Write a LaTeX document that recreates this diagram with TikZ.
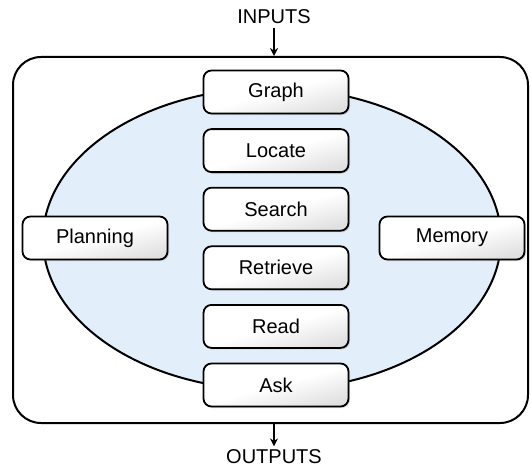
\documentclass[tikz,border=0pt]{standalone}
\usepackage{fontspec}
\setmainfont{Liberation Sans}
\usetikzlibrary{shadows,arrows.meta}

\tikzset{
  box/.style={draw, line width=1.8pt, rounded corners=8pt, minimum width=145pt, minimum height=43pt,
    top color=white, bottom color=black!12, middle color=white, shading angle=15,
    drop shadow={shadow xshift=1.5pt, shadow yshift=-1.5pt, opacity=0.3}},
  frame/.style={draw, line width=2pt, rounded corners=28pt, minimum width=515pt, minimum height=366pt},
  flow/.style={line width=1.6pt, -{Stealth[length=8pt,width=8pt]}}
}

\begin{document}
\begin{tikzpicture}[x=1pt, y=-1pt, font=\fontsize{20}{24}\selectfont]
\useasboundingbox (0,0) rectangle (532,468);

%外枠
\node[frame] (frame) at (270.5,240) {};

%楕円
\draw[line width=2pt, fill={rgb,255:red,227;green,238;blue,251}] (272,239) ellipse (229 and 151);

%中央の列
\foreach \name/\txt [count=\i from 0] in {graph/Graph, locate/Locate, search/Search, retrieve/Retrieve, read/Read, ask/Ask}
  \node[box] (\name) at (276,{92+58.6*\i}) {\txt};

%左右
\node[box] (planning) at (95,238) {Planning};
\node[box] (memory) at (452,238) {Memory};

%入出力
\node (inputs) at (274,17) {INPUTS};
\node (outputs) at (274,457) {OUTPUTS};
\draw[flow] (inputs.south) -- (inputs |- frame.north);
\draw[flow] (outputs |- frame.south) -- (outputs.north);
\end{tikzpicture}
\end{document}
